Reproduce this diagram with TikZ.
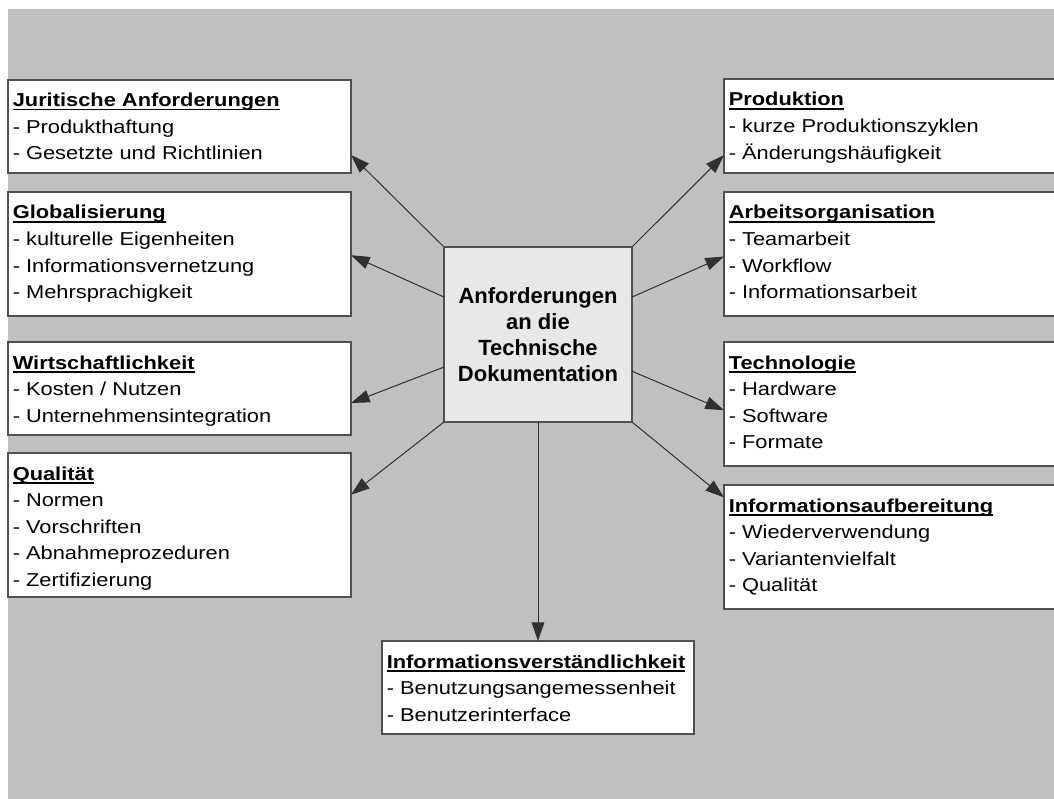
\documentclass[tikz,border=0pt]{standalone}
\usepackage{fontspec}
\setmainfont{Liberation Sans}
\newfontfamily\widefont[FakeStretch=1.17]{Liberation Sans}
\usetikzlibrary{arrows.meta,calc}

\newlength\px
\setlength\px{0.75pt}

% bold heading with a flat underline that runs through descenders
\newsavebox\headbox
\newcommand\heading[1]{\leavevmode\sbox\headbox{\bfseries #1}\rlap{\rule[-3.8\px]{\wd\headbox}{1.8\px}}\usebox\headbox}

\definecolor{canvas}{HTML}{C0C0C0}
\definecolor{frame}{HTML}{505050}
\definecolor{hubfill}{HTML}{E8E8E8}
\definecolor{wire}{HTML}{303030}

\tikzset{
  panel/.style n args={2}{draw=frame, fill=white, line width=1.1pt,
    minimum width=#1\px, minimum height=#2\px, anchor=north west,
    inner sep=0pt, outer sep=0pt},
  caption/.style={anchor=base west, inner sep=0pt,
    font=\widefont\fontsize{14pt}{19.9pt}\selectfont},
  hub/.style={draw=frame, fill=hubfill, line width=1.1pt,
    minimum width=188\px, minimum height=175\px, align=center,
    inner sep=0pt, outer sep=0pt,
    font=\bfseries\fontsize{16.5pt}{19.5pt}\selectfont},
  link/.style={draw=wire, line width=0.75pt,
    -{Triangle[length=14pt,width=9.5pt]}}
}

\begin{document}
\begin{tikzpicture}[x=0.75pt,y=-0.75pt]

\useasboundingbox (0,0) rectangle (1054,799);
\clip (0,0) rectangle (1054,799);
\fill[canvas] (8,9) rectangle (1054,799);

% left column
\node[panel={343}{93}]  (jur)  at (8,80)  {};
\node[panel={343}{124}] (glob) at (8,192) {};
\node[panel={343}{93}]  (wirt) at (8,342) {};
\node[panel={343}{144}] (qual) at (8,453) {};
% right column
\node[panel={340}{94}]  (prod) at (724,79)  {};
\node[panel={340}{124}] (arb)  at (724,192) {};
\node[panel={340}{124}] (tech) at (724,342) {};
\node[panel={340}{124}] (info) at (724,485) {};
% bottom
\node[panel={312}{93}]  (user) at (382,641) {};

% centre
\node[hub] (hub) at (538,334.5) {Anforderungen\\an die\\Technische\\Dokumentation};

% box texts
\node[caption] (jurtext) at ([shift={(4.5,26.5)}]jur.north west)
  {\parbox[t]{420\px}{\heading{Juritische Anforderungen}\\- Produkthaftung\\- Gesetzte und Richtlinien}};
\node[caption] (globtext) at ([shift={(4.5,27)}]glob.north west)
  {\parbox[t]{420\px}{\heading{Globalisierung}\\- kulturelle Eigenheiten\\- Informationsvernetzung\\- Mehrsprachigkeit}};
\node[caption] (wirttext) at ([shift={(4.5,27)}]wirt.north west)
  {\parbox[t]{420\px}{\heading{Wirtschaftlichkeit}\\- Kosten / Nutzen\\- Unternehmensintegration}};
\node[caption] (qualtext) at ([shift={(4.5,27)}]qual.north west)
  {\parbox[t]{420\px}{\heading{Qualität}\\- Normen\\- Vorschriften\\- Abnahmeprozeduren\\- Zertifizierung}};
\node[caption] (prodtext) at ([shift={(4.5,27)}]prod.north west)
  {\parbox[t]{420\px}{\heading{Produktion}\\- kurze Produktionszyklen\\- Änderungshäufigkeit}};
\node[caption] (arbtext) at ([shift={(4.5,27)}]arb.north west)
  {\parbox[t]{420\px}{\heading{Arbeitsorganisation}\\- Teamarbeit\\- Workflow\\- Informationsarbeit}};
\node[caption] (techtext) at ([shift={(4.5,27)}]tech.north west)
  {\parbox[t]{420\px}{\heading{Technologie}\\- Hardware\\- Software\\- Formate}};
\node[caption] (infotext) at ([shift={(4.5,27)}]info.north west)
  {\parbox[t]{420\px}{\heading{Informationsaufbereitung}\\- Wiederverwendung\\- Variantenvielfalt\\- Qualität}};
\node[caption] (usertext) at ([shift={(4.5,27)}]user.north west)
  {\parbox[t]{420\px}{\heading{Informationsverständlichkeit}\\- Benutzungsangemessenheit\\- Benutzerinterface}};

% connectors from the centre
\draw[link] (hub.north west) -- ($(jur.north east)!0.806!(jur.south east)$);
\draw[link] ($(hub.north west)!0.286!(hub.south west)$) -- ($(glob.north east)!0.51!(glob.south east)$);
\draw[link] ($(hub.north west)!0.686!(hub.south west)$) -- ($(wirt.north east)!0.656!(wirt.south east)$);
\draw[link] (hub.south west) -- ($(qual.north east)!0.29!(qual.south east)$);
\draw[link] (hub.north east) -- ($(prod.north west)!0.81!(prod.south west)$);
\draw[link] ($(hub.north east)!0.286!(hub.south east)$) -- ($(arb.north west)!0.52!(arb.south west)$);
\draw[link] ($(hub.north east)!0.71!(hub.south east)$) -- ($(tech.north west)!0.55!(tech.south west)$);
\draw[link] (hub.south east) -- ($(info.north west)!0.1!(info.south west)$);
\draw[link] (hub.south) -- (user.north);

\end{tikzpicture}
\end{document}
